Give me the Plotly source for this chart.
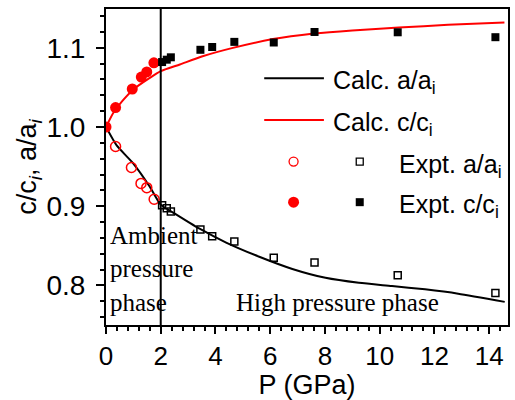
import plotly.graph_objects as go

# ---------------- data ----------------
calc_c_P = [0, 0.27, 0.6, 1.0, 1.6, 2.0, 2.7, 3.5, 4.6, 6.1, 7.6, 9.0, 10.7, 12.5, 14.56]
calc_c = [1.0, 1.018, 1.033, 1.0475, 1.062, 1.0705, 1.079, 1.089, 1.0996, 1.111, 1.118, 1.122, 1.1255, 1.129, 1.132]

calc_a_P = [0, 0.39, 1.0, 1.6, 2.0, 2.5, 3.42, 4.39, 5.6, 6.81, 8.02, 9.24, 10.45, 11.66, 12.87, 14.57]
calc_a = [1.0, 0.9767, 0.9538, 0.9246, 0.902, 0.891, 0.8716, 0.8541, 0.8362, 0.8208, 0.8096, 0.8033, 0.7992, 0.795, 0.7896, 0.7792]

amb_c_P = [0, 0.35, 0.96, 1.29, 1.49, 1.75]
amb_c = [1.0, 1.0246, 1.048, 1.063, 1.0696, 1.081]

amb_a_P = [0.35, 0.93, 1.28, 1.49, 1.76]
amb_a = [0.9754, 0.9488, 0.9288, 0.9234, 0.9088]

hp_P = [2.05, 2.22, 2.37, 3.45, 3.88, 4.69, 6.13, 7.62, 10.66, 14.23]
hp_c = [1.082, 1.085, 1.088, 1.0975, 1.101, 1.1075, 1.1067, 1.12, 1.1196, 1.1134]
hp_a = [0.9012, 0.8975, 0.8934, 0.8706, 0.862, 0.8555, 0.835, 0.8288, 0.8129, 0.7904]

x_ticks = [0, 2, 4, 6, 8, 10, 12, 14]
y_ticks = [0.8, 0.9, 1.0, 1.1]
phase_boundary = 2

# ---------------- layout constants ----------------
W, H = 515, 400
ML, MR, MT, MB = 106, 5, 9, 72
XR = [0, 14.69]
YR = [0.75, 1.149]
SANS = "Liberation Sans, Arial, sans-serif"
SERIF = "Liberation Serif, Times New Roman, serif"

pw = W - ML - MR
ph = H - MT - MB


def px2x(px):
    return XR[0] + (px - ML) / pw * (XR[1] - XR[0])


def py2y(py):
    return YR[1] - (py - MT) / ph * (YR[1] - YR[0])


def px2paper(px):
    return (px - ML) / pw


def py2paper(py):
    return 1 - (py - MT) / ph


fig = go.Figure()

# calc lines
fig.add_trace(go.Scatter(x=calc_a_P, y=calc_a, mode="lines",
                         line=dict(color="black", width=2, shape="spline", smoothing=0.6)))
fig.add_trace(go.Scatter(x=calc_c_P, y=calc_c, mode="lines",
                         line=dict(color="#ff0000", width=2, shape="spline", smoothing=0.6)))

# experimental
fig.add_trace(go.Scatter(x=amb_a_P, y=amb_a, mode="markers",
                         marker=dict(symbol="circle-open", size=10, color="#ff0000", line=dict(width=1.5))))
fig.add_trace(go.Scatter(x=amb_c_P, y=amb_c, mode="markers",
                         marker=dict(symbol="circle", size=11, color="#ff0000")))
fig.add_trace(go.Scatter(x=hp_P, y=hp_a, mode="markers",
                         marker=dict(symbol="square-open", size=7, color="black", line=dict(width=1.5))))
fig.add_trace(go.Scatter(x=hp_P, y=hp_c, mode="markers",
                         marker=dict(symbol="square", size=8, color="black")))

# ---------------- manual legend ----------------
leg_line_x = (265, 325)
leg_rows_y = [79, 121, 163, 204]
leg_text_x = [332, 332, 398, 398]
leg_texts = ["Calc. a/a<sub>i</sub>", "Calc. c/c<sub>i</sub>",
             "Expt. a/a<sub>i</sub>", "Expt. c/c<sub>i</sub>"]

for col, py in zip(["black", "#ff0000"], leg_rows_y[:2]):
    fig.add_shape(type="line", xref="paper", yref="paper",
                  x0=px2paper(leg_line_x[0]), x1=px2paper(leg_line_x[1]),
                  y0=py2paper(py), y1=py2paper(py),
                  line=dict(color=col, width=2))

fig.add_trace(go.Scatter(x=[px2x(294.5)], y=[py2y(leg_rows_y[2])], mode="markers",
                         marker=dict(symbol="circle-open", size=9, color="#ff0000", line=dict(width=1.3))))
fig.add_trace(go.Scatter(x=[px2x(361)], y=[py2y(leg_rows_y[2])], mode="markers",
                         marker=dict(symbol="square-open", size=7, color="black", line=dict(width=1.3))))
fig.add_trace(go.Scatter(x=[px2x(294.5)], y=[py2y(leg_rows_y[3])], mode="markers",
                         marker=dict(symbol="circle", size=11, color="#ff0000")))
fig.add_trace(go.Scatter(x=[px2x(361)], y=[py2y(leg_rows_y[3])], mode="markers",
                         marker=dict(symbol="square", size=8, color="black")))

for tx, py, t in zip(leg_text_x, leg_rows_y, leg_texts):
    fig.add_annotation(xref="paper", yref="paper", x=px2paper(tx), y=py2paper(py + 4),
                       text=t, showarrow=False, xanchor="left", yanchor="middle",
                       font=dict(family=SANS, size=25, color="black"))

# phase labels
for txt, py in [("Ambient", 238), ("pressure", 271), ("phase", 305)]:
    fig.add_annotation(xref="paper", yref="paper", x=px2paper(108), y=py2paper(py),
                       text=txt, showarrow=False, xanchor="left", yanchor="middle",
                       font=dict(family=SERIF, size=25, color="black"))
fig.add_annotation(xref="paper", yref="paper", x=px2paper(235), y=py2paper(305),
                   text="High pressure phase", showarrow=False, xanchor="left", yanchor="middle",
                   font=dict(family=SERIF, size=25, color="black"))

# phase boundary
fig.add_shape(type="line", xref="x", yref="paper", x0=phase_boundary, x1=phase_boundary,
              y0=0, y1=1, line=dict(color="black", width=2))

fig.update_layout(
    width=W, height=H,
    margin=dict(l=ML, r=MR, t=MT, b=MB),
    plot_bgcolor="white", paper_bgcolor="white",
    showlegend=False,
    font=dict(family=SANS, color="black"),
)
fig.update_xaxes(
    range=XR, tickvals=x_ticks, ticktext=[str(v) for v in x_ticks],
    ticks="outside", ticklen=7, tickwidth=1.5, tickcolor="black",
    minor=dict(dtick=0.4, tick0=0, ticks="outside", ticklen=4, tickwidth=1.5, tickcolor="black"),
    showline=True, linewidth=2, linecolor="black", mirror=True,
    showgrid=False, zeroline=False,
    tickfont=dict(family=SANS, size=26),
    ticklabelstandoff=0,
    title=dict(text="P (GPa)", font=dict(family=SANS, size=27), standoff=5),
)
fig.update_yaxes(
    range=YR, tickvals=y_ticks, ticktext=[f"{v:.1f}" for v in y_ticks],
    ticks="outside", ticklen=8, tickwidth=1.5, tickcolor="black",
    minor=dict(dtick=0.02, tick0=0.8, ticks="outside", ticklen=4, tickwidth=1.5, tickcolor="black"),
    showline=True, linewidth=2, linecolor="black", mirror=True,
    showgrid=False, zeroline=False,
    tickfont=dict(family=SANS, size=28),
    ticklabelstandoff=5,
    title=dict(text="c/c<sub><i>i</i></sub>, a/a<sub><i>i</i></sub>", font=dict(family=SANS, size=27), standoff=2),
)

fig.write_html("out.html", config={"displayModeBar": False},
               post_script="document.body.style.margin='0';document.body.style.padding='0';")
